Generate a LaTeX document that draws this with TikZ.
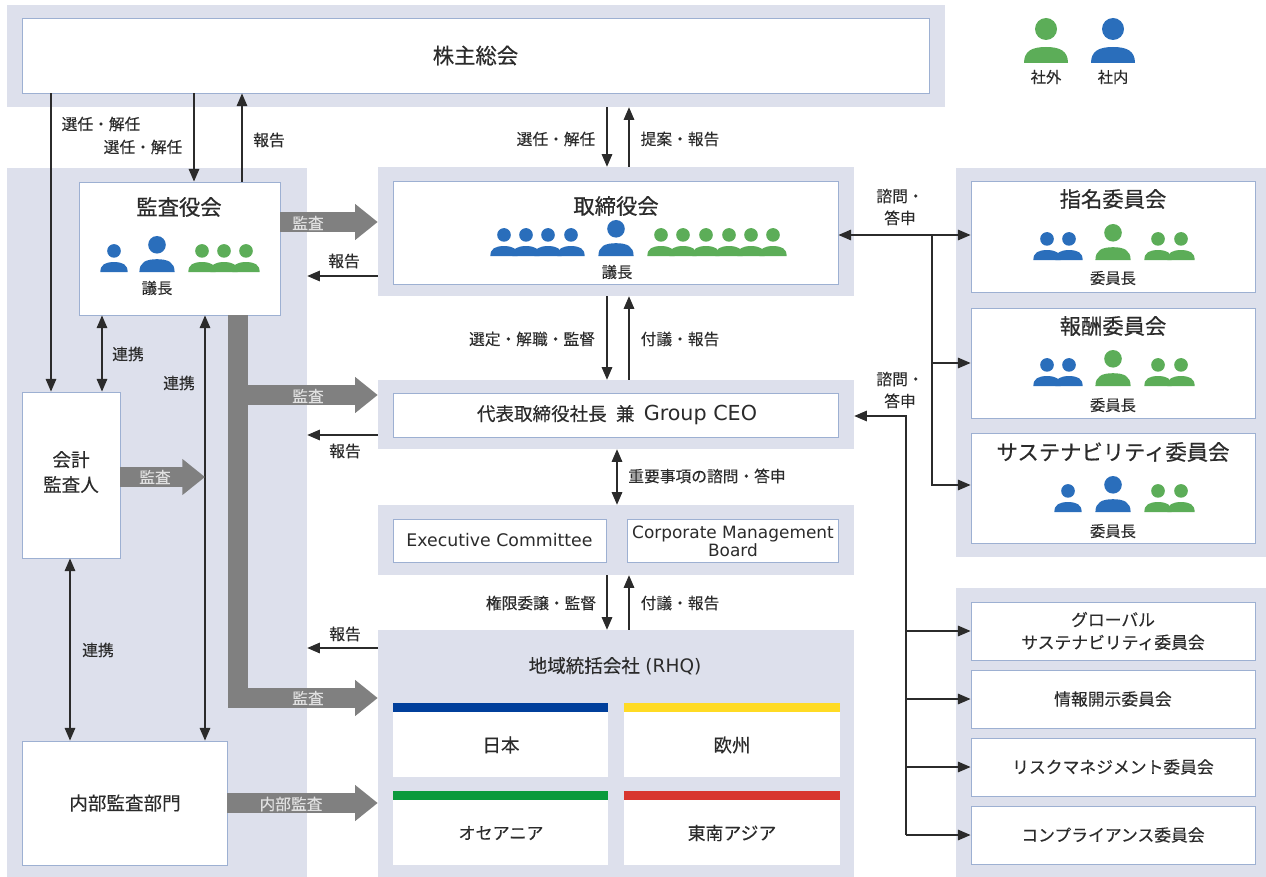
\documentclass[tikz,border=0pt]{standalone}
\usepackage{fontspec}
\setmainfont[FakeBold=0.2]{Noto Sans CJK JP}
\newfontfamily\titlefont[FakeBold=0.5]{Noto Sans CJK JP}
\newfontfamily\latinfont{DejaVu Sans}
\usepackage{xcolor}
\usetikzlibrary{arrows.meta,fit}

\definecolor{panelc}{HTML}{DDE0EC}
\definecolor{edgec}{HTML}{9DB0D2}
\definecolor{textc}{HTML}{2B2B2B}
\definecolor{linec}{HTML}{2B2B2B}
\definecolor{auditc}{HTML}{808080}
\definecolor{inblue}{HTML}{2A6EBB}
\definecolor{outgreen}{HTML}{5CAD58}

\tikzset{
  panel/.style={fill=panelc,inner sep=0pt},
  box/.style={draw=edgec,fill=white,line width=0.7pt,inner sep=0pt},
  boxtext/.style={text=textc,align=center,inner sep=0pt,font=\fontsize{13.9}{18.75}\selectfont},
  smalltext/.style={text=textc,align=center,inner sep=0pt,font=\fontsize{12.6}{17}\selectfont},
  title/.style={text=textc,font=\fontsize{16}{18}\titlefont},
  lab/.style={text=textc,align=center,font=\fontsize{11.8}{16.5}\selectfont},
  tag/.style={text=textc,font=\fontsize{11.5}{13}\selectfont},
  whitelab/.style={text=white!88!black,font=\fontsize{11.8}{14}\selectfont},
  conn/.style={draw=linec,line width=0.8pt,-{Triangle[length=9.5pt,width=8pt]}},
  conn2/.style={draw=linec,line width=0.8pt,{Triangle[length=9.5pt,width=8pt]}-{Triangle[length=9.5pt,width=8pt]}},
  audit/.style={draw=auditc,line width=15pt,-{Triangle[length=17pt,width=26pt]}},
  person/.pic={
    \fill[pic actions] (0,-34) circle [radius=11];
    \fill[pic actions] (-22,0) .. controls (-22,-12) and (-14,-16) .. (0,-16) .. controls (14,-16) and (22,-12) .. (22,0) -- cycle;
  }
}

\begin{document}
\begin{tikzpicture}[x=0.75pt,y=-0.75pt]
\useasboundingbox (0,0) rectangle (1266,877);

% panels
\node[panel,fit={(7,5)(945,107)}] (ptop) {};
\node[panel,fit={(7,168)(307,877)}] (pleft) {};
\node[panel,fit={(378,167)(854,296)}] (pboard) {};
\node[panel,fit={(378,380)(854,449)}] (pceo) {};
\node[panel,fit={(378,505)(854,575)}] (pexec) {};
\node[panel,fit={(378,630)(854,877)}] (prhq) {};
\node[panel,fit={(956,168)(1266,557)}] (pcomm) {};
\node[panel,fit={(956,588)(1266,877)}] (pglobal) {};

% boxes
\node[box,fit={(22,18)(929,93)}] (soukai) {};
\node[box,fit={(79,182)(280,315)}] (kansa) {};
\node[box,fit={(22,392)(120,558)}] (kaikei) {};
\node[box,fit={(22,741)(227,865)}] (naibu) {};
\node[box,fit={(393,181)(838,284)}] (board) {};
\node[box,fit={(393,393)(838,437)}] (ceo) {};
\node[box,fit={(393,519)(606,562)}] (excom) {};
\node[box,fit={(627,519)(838,562)}] (cmb) {};
\node[box,fit={(971,181)(1255,292)}] (shimei) {};
\node[box,fit={(971,308)(1255,418)}] (houshu) {};
\node[box,fit={(971,433)(1255,543)}] (sustain) {};
\node[box,fit={(971,602)(1255,660)}] (gcomm) {};
\node[box,fit={(971,670)(1255,728)}] (info) {};
\node[box,fit={(971,738)(1255,796)}] (risk) {};
\node[box,fit={(971,806)(1255,864)}] (comp) {};

% regions
\node[box,draw=none,fit={(393,703)(608,777)}] (japan) {};
\node[box,draw=none,fit={(624,703)(840,777)}] (europe) {};
\node[box,draw=none,fit={(393,791)(608,865)}] (oceania) {};
\node[box,draw=none,fit={(624,791)(840,865)}] (seasia) {};
\fill[fill={rgb,255:red,0;green,63;blue,155}] (393,703) rectangle (608,712);
\fill[fill={rgb,255:red,255;green,219;blue,36}] (624,703) rectangle (840,712);
\fill[fill={rgb,255:red,10;green,154;blue,60}] (393,791) rectangle (608,800);
\fill[fill={rgb,255:red,216;green,54;blue,47}] (624,791) rectangle (840,800);

% box texts
\node[title] (soukaitext) at (soukai) {株主総会};
\node[boxtext] (kaikeitext) at (71,472) {会計\\監査人};
\node[boxtext] (naibutext) at (125,803) {内部監査部門};
\node[boxtext] (ceotext) at (617,415) {代表取締役社長\hspace{0.5em}兼\hspace{0.5em}{\fontsize{15.5}{18}\latinfont Group CEO}};
\node[boxtext,font=\fontsize{13}{16}\latinfont] (excomtext) at (excom) {Executive Committee};
\node[boxtext,font=\fontsize{12.7}{13.5}\latinfont] (cmbtext) at (733,541) {Corporate Management\\Board};
\node[smalltext] (gcommtext) at (gcomm) {グローバル\\サステナビリティ委員会};
\node[smalltext] (infotext) at (info) {情報開示委員会};
\node[smalltext] (risktext) at (risk) {リスクマネジメント委員会};
\node[smalltext] (comptext) at (comp) {コンプライアンス委員会};
\node[boxtext] (rhqtext) at (615,666) {地域統括会社\hspace{0.3em}{\latinfont (RHQ)}};
\node[boxtext] (japantext) at (501,745) {日本};
\node[boxtext] (europetext) at (732,745) {欧州};
\node[boxtext,font=\fontsize{12.8}{16}\selectfont] (oceaniatext) at (501,833) {オセアニア};
\node[boxtext,font=\fontsize{13.4}{16}\selectfont] (seasiatext) at (732,833) {東南アジア};

% guides for the connectors
\coordinate (xa) at (51,0);
\coordinate (xb) at (194,0);
\coordinate (xc) at (242,0);
\coordinate (xd) at (102,0);
\coordinate (xe) at (205,0);
\coordinate (xf) at (70,0);
\coordinate (xg) at (607,0);
\coordinate (xh) at (629,0);
\coordinate (xi) at (617,0);
\coordinate (xj) at (932,0);
\coordinate (xk) at (906,0);
\coordinate (ya) at (0,222);
\coordinate (yb) at (0,276);
\coordinate (yc) at (0,395);
\coordinate (yd) at (0,435);
\coordinate (ye) at (0,648);
\coordinate (yf) at (0,698);
\coordinate (yg) at (0,477);
\coordinate (yh) at (0,803);
\coordinate (yi) at (0,235);
\coordinate (yj) at (0,485);
\coordinate (yk) at (0,416);
\coordinate (tr) at (238,0);

% thin connectors
\draw[conn] (soukai.south -| xa) -- (kaikei.north -| xa);
\draw[conn] (soukai.south -| xb) -- (kansa.north -| xb);
\draw[conn] (kansa.north -| xc) -- (soukai.south -| xc);
\draw[conn] (pboard.west |- yb) -- (pleft.east |- yb);
\draw[conn] (pceo.west |- yd) -- (pleft.east |- yd);
\draw[conn] (prhq.west |- ye) -- (pleft.east |- ye);
\draw[conn2] (kansa.south -| xd) -- (kaikei.north -| xd);
\draw[conn2] (kansa.south -| xe) -- (naibu.north -| xe);
\draw[conn2] (kaikei.south -| xf) -- (naibu.north -| xf);
\draw[conn] (ptop.south -| xg) -- (pboard.north -| xg);
\draw[conn] (pboard.north -| xh) -- (ptop.south -| xh);
\draw[conn] (pboard.south -| xg) -- (pceo.north -| xg);
\draw[conn] (pceo.north -| xh) -- (pboard.south -| xh);
\draw[conn2] (pceo.south -| xi) -- (pexec.north -| xi);
\draw[conn] (pexec.south -| xg) -- (prhq.north -| xg);
\draw[conn] (prhq.north -| xh) -- (pexec.south -| xh);

\draw[conn2] (board.east |- yi) -- (shimei.west |- yi);
\draw[conn] (yi -| xj) |- (houshu.west);
\draw[conn] (yi -| xj) |- (sustain.west |- yj);
\draw[conn] (gcomm.west -| xk) -- (gcomm.west);
\draw[conn] (info.west -| xk) -- (info.west);
\draw[conn] (risk.west -| xk) -- (risk.west);
\draw[conn] (comp.west -| xk) |- (yk -| pceo.east);
\draw[conn] (comp.west -| xk) -- (comp.west);

% audit arrows
\draw[audit] (kansa.east |- ya) -- (pboard.west |- ya);
\draw[audit] (tr |- yc) -- (pceo.west |- yc);
\draw[audit,arrows=-] (kansa.south -| tr) -- (tr |- yf);
\draw[audit,line join=miter] (kansa.south -| tr) |- (prhq.west |- yf);
\draw[audit] (kaikei.east |- yg) -- (xe |- yg);
\draw[audit] (naibu.east |- yh) -- (prhq.west |- yh);

% labels
\node[lab] (la) at (101,124) {選任・解任};
\node[lab] (lb) at (143,147) {選任・解任};
\node[lab] (lc) at (269,140) {報告};
\node[lab] (ld) at (344,261) {報告};
\node[lab] (le) at (345,451) {報告};
\node[lab] (lf) at (345,634) {報告};
\node[lab] (lg) at (128,354) {連携};
\node[lab] (lh) at (179,383) {連携};
\node[lab] (li) at (98,650) {連携};
\node[lab] (lj) at (556,139) {選任・解任};
\node[lab] (lk) at (680,139) {提案・報告};
\node[lab] (ll) at (532,339) {選定・解職・監督};
\node[lab] (lm) at (680,339) {付議・報告};
\node[lab] (ln) at (707,476) {重要事項の諮問・答申};
\node[lab] (lo) at (541,603) {権限委譲・監督};
\node[lab] (lp) at (680,603) {付議・報告};
\node[lab] (lq) at (900,207) {諮問・\\答申};
\node[lab] (lr) at (900,390) {諮問・\\答申};
\node[whitelab] (wa) at (308,223) {監査};
\node[whitelab] (wb) at (308,396) {監査};
\node[whitelab] (wc) at (308,698) {監査};
\node[whitelab] (wd) at (155,477) {監査};
\node[whitelab] (we) at (291,804) {内部監査};

% titles
\node[title] (t1) at (179,207) {監査役会};
\node[title] (t2) at (616,206) {取締役会};
\node[title] (t3) at (1113,199) {指名委員会};
\node[title] (t4) at (1113,326) {報酬委員会};
\node[title] (t5) at (1113,452) {サステナビリティ委員会};
\node[tag] (c1) at (157,288) {議長};
\node[tag] (c2) at (617,272) {議長};
\node[tag] (c3) at (1113,278) {委員長};
\node[tag] (c4) at (1113,405) {委員長};
\node[tag] (c5) at (1113,531) {委員長};
\node[tag] (s1) at (1046,77) {社外};
\node[tag] (s2) at (1113,77) {社内};

% people
\pic[fill=outgreen] at (1046,63) {person};
\pic[fill=inblue] at (1113,63) {person};

\pic[fill=inblue,scale=0.62] at (114,272) {person};
\pic[fill=inblue,scale=0.8] at (157,272) {person};
\foreach \px in {202,224,246}
  \pic[fill=outgreen,scale=0.62] at (\px,272) {person};

\foreach \px in {504,526,548,571}
  \pic[fill=inblue,scale=0.62] at (\px,256) {person};
\pic[fill=inblue,scale=0.8] at (616,256) {person};
\foreach \px in {661,683,706,729,751,773}
  \pic[fill=outgreen,scale=0.62] at (\px,256) {person};

\foreach \py in {260,386}{
  \foreach \px in {1047,1069}
    \pic[fill=inblue,scale=0.62] at (\px,\py) {person};
  \pic[fill=outgreen,scale=0.8] at (1113,\py) {person};
  \foreach \px in {1158,1181}
    \pic[fill=outgreen,scale=0.62] at (\px,\py) {person};
}
\pic[fill=inblue,scale=0.62] at (1068,512) {person};
\pic[fill=inblue,scale=0.8] at (1113,512) {person};
\foreach \px in {1158,1181}
  \pic[fill=outgreen,scale=0.62] at (\px,512) {person};

\end{tikzpicture}
\end{document}
